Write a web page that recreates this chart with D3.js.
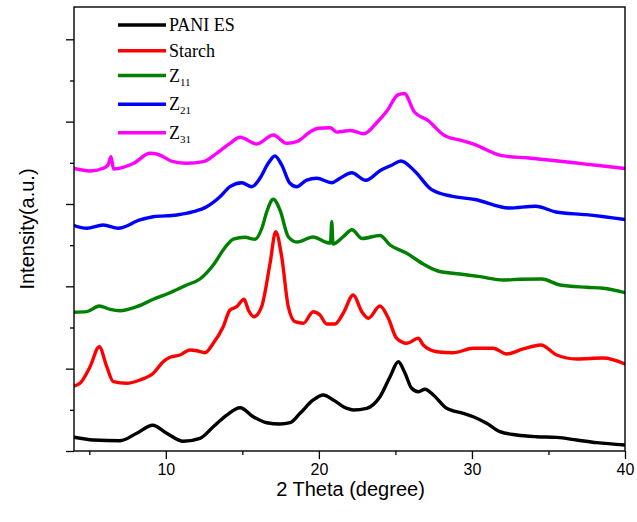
<!DOCTYPE html>
<html>
<head>
<meta charset="utf-8">
<script src="https://cdn.jsdelivr.net/npm/d3@7"></script>
<style>
html,body{margin:0;padding:0;background:#fff;}
svg{display:block;}
</style>
</head>
<body>
<svg id="chart" width="637" height="522"></svg>
<script>
// ---- data (2θ in degrees, intensity in arbitrary units, curves offset as in the figure) ----
const paniX = [4.00,5.26,7.01,8.10,9.14,10.06,11.14,12.23,13.10,13.98,14.85,15.71,16.59,17.46,18.11,18.77,19.63,20.29,20.94,21.82,22.25,23.12,23.99,24.65,25.19,25.63,26.06,26.50,26.93,27.48,28.35,29.43,30.09,30.96,31.83,32.92,34.23,35.54,36.84,38.15,40.00];
const paniY = [0.333,0.267,0.250,0.430,0.624,0.430,0.236,0.308,0.590,0.874,1.052,0.833,0.687,0.656,0.687,0.916,1.239,1.360,1.239,1.037,0.996,1.037,1.319,1.805,2.169,1.887,1.523,1.440,1.499,1.360,1.037,0.916,0.833,0.673,0.469,0.389,0.347,0.330,0.267,0.202,0.146];

const starchX = [4.00,4.39,5.05,5.65,6.14,6.57,7.44,8.31,9.18,9.83,10.27,10.93,11.58,12.02,12.56,13.10,13.75,14.19,14.63,15.11,15.39,15.76,16.26,16.81,17.18,17.57,18.00,18.44,18.98,19.63,20.07,20.51,21.05,21.59,22.25,22.80,23.23,23.99,24.53,25.08,25.74,26.49,26.82,27.70,28.78,30.09,31.39,32.27,33.35,34.51,35.54,36.84,38.58,40.00];
const starchY = [1.579,1.644,2.048,2.533,2.048,1.683,1.644,1.725,1.887,2.169,2.276,2.332,2.453,2.436,2.388,2.616,3.019,3.425,3.505,3.685,3.425,3.262,3.505,4.559,5.327,4.719,3.505,3.141,3.102,3.384,3.303,3.085,3.085,3.345,3.789,3.384,3.223,3.522,3.231,2.737,2.616,2.737,2.575,2.412,2.388,2.494,2.494,2.356,2.478,2.575,2.332,2.235,2.259,2.113];

const z11X = [4.00,4.83,5.65,6.35,7.01,8.10,9.18,10.27,11.36,12.23,13.10,13.75,14.41,15.17,15.83,16.28,16.59,17.02,17.46,18.00,18.57,19.63,20.51,20.76,20.84,20.92,21.59,22.16,22.82,23.99,24.65,25.74,26.82,27.78,29.22,30.53,32.05,33.14,34.56,35.75,37.50,38.58,40.00];
const z11Y = [3.369,3.384,3.522,3.442,3.408,3.505,3.685,3.845,4.032,4.178,4.518,4.882,5.149,5.191,5.142,5.417,5.805,6.114,5.854,5.205,5.076,5.198,5.064,5.052,5.570,5.028,5.205,5.375,5.162,5.234,5.004,4.802,4.542,4.372,4.299,4.234,4.154,4.171,4.178,4.032,3.976,3.952,3.845];

const z21X = [4.00,4.83,5.91,6.89,8.31,9.18,10.71,11.79,12.67,13.54,14.19,14.96,15.61,16.15,16.69,17.13,17.57,18.11,18.55,19.20,19.86,20.84,21.38,22.14,23.06,24.04,24.78,25.36,26.25,27.34,28.66,30.20,32.41,34.16,35.48,37.46,40.00];
const z21Y = [5.477,5.409,5.489,5.409,5.611,5.691,5.732,5.812,5.934,6.177,6.420,6.517,6.420,6.624,6.988,7.165,6.947,6.502,6.420,6.582,6.624,6.517,6.624,6.760,6.575,6.820,6.947,7.044,6.803,6.354,6.189,6.109,5.902,5.944,5.805,5.740,5.623];

const z31X = [4.00,5.05,5.91,6.22,6.42,6.58,7.87,8.97,9.40,10.49,11.36,12.45,13.32,14.19,14.85,15.94,17.02,17.90,18.55,19.42,19.96,20.75,21.18,22.07,22.94,23.82,24.48,25.14,25.58,26.24,27.12,28.21,29.32,30.19,31.95,33.71,35.47,37.44,40.00];
const z31Y = [6.862,6.801,6.867,6.947,7.148,6.850,6.983,7.231,7.214,7.027,6.988,7.027,7.231,7.474,7.620,7.457,7.675,7.474,7.513,7.748,7.838,7.850,7.746,7.785,7.705,7.991,8.275,8.645,8.683,8.234,8.030,7.663,7.542,7.442,7.173,7.117,7.051,6.969,6.862];

const seriesNames = ["PANI ES", "Starch", "Z", "Z", "Z"];
const seriesSubs = ["", "", "11", "21", "31"];
const seriesColors = ["#000000", "#ff0000", "#008000", "#0000ff", "#ff00ff"];
const xTickValues = [10, 20, 30, 40];
const xMinorTicks = [5, 15, 25, 35];
const yMajorTicks = [0, 2, 4, 6, 8, 10];
const yMinorTicks = [1, 3, 5, 7, 9];
const xTitle = "2 Theta (degree)";
const yTitle = "Intensity(a.u.)";

// ---- drawing ----
const series = [
  {x: paniX, y: paniY},
  {x: starchX, y: starchY},
  {x: z11X, y: z11Y},
  {x: z21X, y: z21Y},
  {x: z31X, y: z31Y}
];

const svg = d3.select("#chart");
const L = 74, R = 625, T = 7, B = 451;
const x = d3.scaleLinear().domain([4, 40]).range([L, R]);
const y = d3.scaleLinear().domain([0, (B - T) / 41.17]).range([B, T]);

const line = d3.line()
  .x(d => x(d[0]))
  .y(d => y(d[1]))
  .curve(d3.curveMonotoneX);

svg.append("clipPath").attr("id", "clip")
  .append("rect").attr("x", L).attr("y", T).attr("width", R - L).attr("height", B - T);

const plot = svg.append("g").attr("clip-path", "url(#clip)");
series.forEach((s, i) => {
  const pts = s.x.map((v, j) => [v, s.y[j]]);
  plot.append("path")
    .attr("d", line(pts))
    .attr("fill", "none")
    .attr("stroke", seriesColors[i])
    .attr("stroke-width", 3.4)
    .attr("stroke-linejoin", "round")
    .attr("stroke-linecap", "round");
});

// frame
svg.append("rect").attr("x", L).attr("y", T).attr("width", R - L).attr("height", B - T)
  .attr("fill", "none").attr("stroke", "#000").attr("stroke-width", 1.4);

// x axis
const xAxis = d3.axisBottom(x).tickValues(xTickValues).tickSize(8).tickSizeOuter(0).tickFormat(d3.format("d"));
const gx = svg.append("g").attr("transform", `translate(0,${B})`).call(xAxis);
gx.select(".domain").remove();
gx.selectAll(".tick line").attr("stroke-width", 1.3);
gx.selectAll(".tick text").attr("font-family", "Liberation Sans, Arial, sans-serif").attr("font-size", 16).attr("fill", "#000").attr("dy", "0.8em");
const xAxisMinor = d3.axisBottom(x).tickValues(xMinorTicks).tickSize(4).tickSizeOuter(0).tickFormat("");
const gxm = svg.append("g").attr("transform", `translate(0,${B})`).call(xAxisMinor);
gxm.select(".domain").remove();
gxm.selectAll(".tick line").attr("stroke-width", 1.3);

// y axis
const yAxis = d3.axisLeft(y).tickValues(yMajorTicks).tickSize(8).tickSizeOuter(0).tickFormat("");
const gy = svg.append("g").attr("transform", `translate(${L},0)`).call(yAxis);
gy.select(".domain").remove();
gy.selectAll(".tick line").attr("stroke-width", 1.3);
const yAxisMinor = d3.axisLeft(y).tickValues(yMinorTicks).tickSize(4).tickSizeOuter(0).tickFormat("");
const gym = svg.append("g").attr("transform", `translate(${L},0)`).call(yAxisMinor);
gym.select(".domain").remove();
gym.selectAll(".tick line").attr("stroke-width", 1.3);

// titles
svg.append("text").attr("x", (L + R) / 2 + 1).attr("y", 496)
  .attr("text-anchor", "middle").attr("font-family", "Liberation Sans, Arial, sans-serif")
  .attr("font-size", 20).attr("fill", "#000").text(xTitle);
svg.append("text").attr("transform", `translate(34,${(T + B) / 2}) rotate(-90)`)
  .attr("text-anchor", "middle").attr("font-family", "Liberation Sans, Arial, sans-serif")
  .attr("font-size", 20).attr("fill", "#000").text(yTitle);

// legend
const legendY = [25, 50.7, 75.5, 104.3, 132.7];
const lg = svg.append("g");
seriesNames.forEach((n, i) => {
  const yy = legendY[i];
  lg.append("line").attr("x1", 118).attr("x2", 166).attr("y1", yy).attr("y2", yy)
    .attr("stroke", seriesColors[i]).attr("stroke-width", 3.4);
  const t = lg.append("text").attr("x", 169).attr("y", yy + 6)
    .attr("font-family", "Liberation Serif, 'Times New Roman', serif")
    .attr("font-size", 18).attr("fill", "#000").text(n);
  if (seriesSubs[i]) {
    t.append("tspan").attr("font-size", 11).attr("dy", 4).text(seriesSubs[i]);
  }
});
</script>
</body>
</html>
